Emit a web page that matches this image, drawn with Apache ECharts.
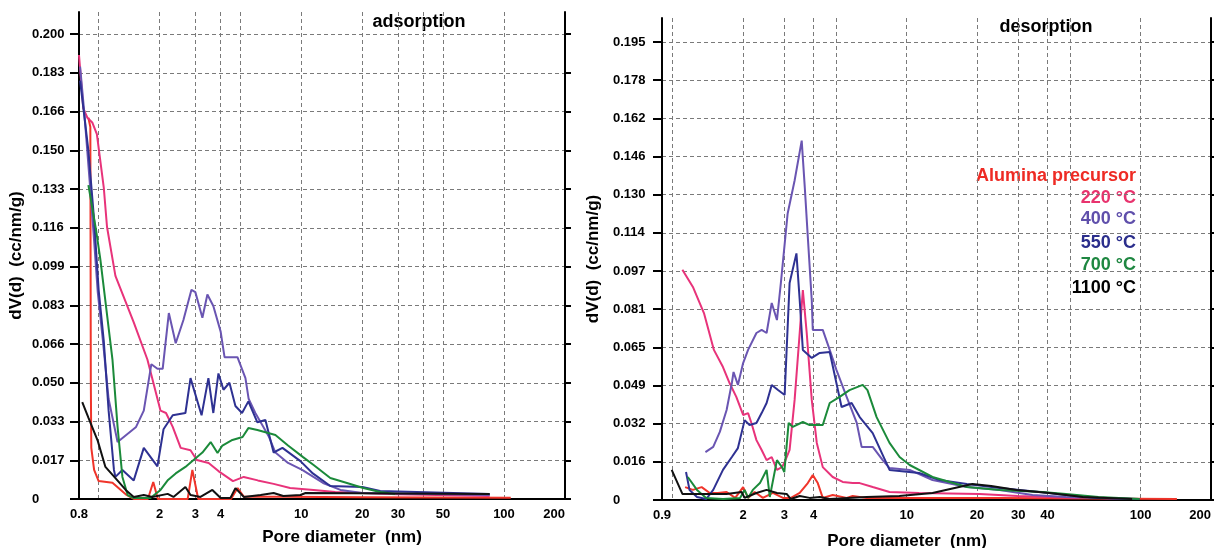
<!DOCTYPE html>
<html>
<head>
<meta charset="utf-8">
<title>Pore size distribution</title>
<script src="https://cdn.jsdelivr.net/npm/echarts@6/dist/echarts.min.js"></script>
<style>
  html, body { margin: 0; padding: 0; background: #fff; }
  #chart { width: 1214px; height: 548px; }
</style>
</head>
<body>
<div id="chart"></div>
<script>
const seriesNames = ['Alumina precursor', '220 °C', '400 °C', '550 °C', '700 °C', '1100 °C']

// tick labels
const adsXLabels = [0.8, 2, 3, 4, 10, 20, 30, 50, 100, 200]
const desXLabels = [0.9, 2, 3, 4, 10, 20, 30, 40, 100, 200]
const xGridValues = [1, 2, 3, 4, 5, 10, 20, 30, 40, 50, 100]
const adsYLabels = ['0', '0.017', '0.033', '0.050', '0.066', '0.083', '0.099', '0.116', '0.133', '0.150', '0.166', '0.183', '0.200']
const desYLabels = ['0', '0.016', '0.032', '0.049', '0.065', '0.081', '0.097', '0.114', '0.130', '0.146', '0.162', '0.178', '0.195']

// adsorption: [pore diameter (nm), dV(d) (cc/nm/g)]
const adsPrecursor = [[0.89, 0.164], [0.91, 0.16], [0.915, 0.05], [0.92, 0.022], [0.95, 0.0125], [1.0, 0.0077], [1.17, 0.007], [1.36, 0.002], [1.49, 0], [1.75, 0], [1.86, 0.0073], [1.96, 0], [2.75, 0], [2.9, 0.0125], [3.1, 0], [4.5, 0], [4.85, 0.0047], [5.2, 0.001], [8, 0.001], [20, 0.0008], [108, 0.0005]]
const ads220 = [[0.8, 0.191], [0.84, 0.168], [0.88, 0.164], [0.93, 0.162], [0.98, 0.157], [1.06, 0.134], [1.1, 0.117], [1.21, 0.096], [1.49, 0.076], [1.74, 0.06], [2.02, 0.038], [2.15, 0.037], [2.32, 0.031], [2.54, 0.022], [2.84, 0.021], [3.05, 0.0168], [3.49, 0.0155], [3.9, 0.012], [4.6, 0.0077], [5.2, 0.0095], [6.1, 0.008], [7.3, 0.0065], [8.8, 0.0047], [11.5, 0.0039], [14.7, 0.003], [30, 0.002], [85, 0.0013]]
const ads400 = [[0.81, 0.186], [0.85, 0.166], [0.91, 0.133], [0.95, 0.111], [0.99, 0.089], [1.05, 0.068], [1.12, 0.043], [1.24, 0.0245], [1.53, 0.031], [1.67, 0.038], [1.82, 0.058], [1.95, 0.056], [2.07, 0.056], [2.22, 0.08], [2.4, 0.067], [2.62, 0.077], [2.87, 0.09], [3.0, 0.089], [3.25, 0.078], [3.44, 0.088], [3.68, 0.083], [4.0, 0.072], [4.18, 0.061], [4.84, 0.061], [5.3, 0.052], [5.5, 0.043], [5.93, 0.037], [6.5, 0.031], [6.9, 0.027], [7.45, 0.02], [8.6, 0.0155], [10.1, 0.0125], [12.8, 0.0069], [15.6, 0.0039], [20, 0.0026], [85, 0.0017]]
const ads550 = [[0.81, 0.18], [0.89, 0.15], [0.95, 0.12], [1.0, 0.09], [1.06, 0.068], [1.12, 0.038], [1.19, 0.0125], [1.21, 0.0095], [1.31, 0.0125], [1.49, 0.008], [1.67, 0.022], [1.95, 0.014], [2.09, 0.03], [2.32, 0.036], [2.68, 0.037], [2.84, 0.052], [3.22, 0.036], [3.48, 0.052], [3.68, 0.037], [3.9, 0.054], [4.13, 0.047], [4.42, 0.05], [4.73, 0.04], [5.1, 0.037], [5.48, 0.042], [6.07, 0.033], [6.65, 0.034], [7.3, 0.02], [8.07, 0.022], [9.9, 0.0163], [11.4, 0.011], [13.9, 0.0056], [20, 0.0052], [24.5, 0.0034], [85, 0.0022]]
const ads700 = [[0.89, 0.135], [0.97, 0.116], [1.02, 0.103], [1.17, 0.06], [1.24, 0.031], [1.31, 0.0095], [1.39, 0.0017], [1.49, 0.0004], [1.8, 0.0004], [2.02, 0.0039], [2.2, 0.0082], [2.4, 0.011], [2.68, 0.0138], [2.94, 0.0168], [3.25, 0.02], [3.57, 0.0245], [3.86, 0.0198], [4.08, 0.023], [4.57, 0.0254], [5.13, 0.0267], [5.48, 0.0305], [6.07, 0.0297], [7.45, 0.0275], [8.6, 0.023], [10.2, 0.018], [11.5, 0.0146], [13.9, 0.009], [16.8, 0.0069], [20.2, 0.0047], [24.5, 0.003], [29, 0.0022]]
const ads1100 = [[0.83, 0.0417], [0.89, 0.035], [0.99, 0.025], [1.08, 0.0138], [1.21, 0.009], [1.36, 0.0039], [1.49, 0.0009], [1.67, 0.0017], [1.84, 0.0009], [2.19, 0.0022], [2.34, 0.0009], [2.68, 0.0052], [2.84, 0.0017], [3.18, 0.0009], [3.64, 0.0039], [4.0, 0.0004], [4.47, 0.0004], [4.73, 0.0047], [5.2, 0.0009], [6.3, 0.0017], [7.3, 0.0026], [8.15, 0.0013], [9.9, 0.0017], [10.5, 0.0026], [85, 0.0022]]

// desorption: [pore diameter (nm), dV(d) (cc/nm/g)]
const desPrecursor = [[1.13, 0.0055], [1.22, 0.0043], [1.33, 0.0055], [1.44, 0.003], [1.56, 0.003], [1.7, 0.0034], [1.85, 0.0009], [2.0, 0.0055], [2.1, 0.0009], [2.24, 0.0034], [2.43, 0.0009], [2.68, 0.003], [2.96, 0.0009], [3.2, 0.0009], [3.49, 0.003], [3.78, 0.0072], [3.97, 0.0106], [4.17, 0.0072], [4.38, 0.0009], [4.83, 0.0021], [5.54, 0.0009], [5.88, 0.0017], [6.74, 0.0009], [10.3, 0.0009], [25, 0.0009], [143, 0.0004]]
const des220 = [[1.1, 0.098], [1.22, 0.0907], [1.36, 0.0796], [1.5, 0.0639], [1.64, 0.0566], [1.75, 0.0498], [1.87, 0.0439], [2.0, 0.0362], [2.1, 0.037], [2.17, 0.0328], [2.28, 0.0255], [2.4, 0.0213], [2.52, 0.017], [2.65, 0.0183], [2.79, 0.0128], [2.93, 0.014], [3.0, 0.0158], [3.16, 0.0213], [3.32, 0.0426], [3.49, 0.0711], [3.6, 0.0894], [3.74, 0.0711], [3.93, 0.0426], [4.13, 0.0243], [4.38, 0.014], [4.83, 0.0098], [5.33, 0.0077], [5.88, 0.0072], [6.3, 0.0072], [7.16, 0.0055], [8.45, 0.0034], [11.3, 0.003], [20.5, 0.0026], [29.8, 0.0017], [54.8, 0.0009]]
const des400 = [[1.38, 0.0204], [1.49, 0.0226], [1.59, 0.029], [1.7, 0.0383], [1.79, 0.0498], [1.82, 0.0545], [1.9, 0.049], [2.0, 0.0583], [2.1, 0.0639], [2.28, 0.0711], [2.4, 0.0724], [2.52, 0.0711], [2.65, 0.0839], [2.79, 0.0766], [2.9, 0.0924], [3.1, 0.122], [3.32, 0.136], [3.56, 0.153], [3.67, 0.133], [3.78, 0.112], [3.93, 0.085], [3.97, 0.0724], [4.38, 0.0724], [4.69, 0.0639], [5.01, 0.0554], [5.54, 0.0439], [6.12, 0.0328], [6.42, 0.0226], [7.16, 0.0226], [7.9, 0.017], [8.45, 0.0136], [10.3, 0.0128], [12.9, 0.0085], [18.1, 0.0055], [25, 0.0043], [34.5, 0.0021], [48, 0.0013], [92, 0.0004]]
const des550 = [[1.14, 0.0119], [1.18, 0.0043], [1.27, 0.0013], [1.39, 0.0004], [1.49, 0.0043], [1.64, 0.0128], [1.79, 0.0183], [1.9, 0.0221], [2.03, 0.034], [2.13, 0.0319], [2.28, 0.0328], [2.4, 0.037], [2.52, 0.0413], [2.65, 0.049], [2.82, 0.0468], [3.01, 0.0447], [3.16, 0.0924], [3.38, 0.105], [3.49, 0.0852], [3.6, 0.0639], [3.93, 0.0605], [4.25, 0.0626], [4.69, 0.063], [5.27, 0.0396], [5.82, 0.0413], [6.3, 0.0353], [7.16, 0.0285], [8.45, 0.0128], [11.3, 0.0115], [13.8, 0.0085], [18.1, 0.0068], [25, 0.0051], [37, 0.0034], [48, 0.0021], [66, 0.0009], [99, 0.0004]]
const des700 = [[1.16, 0.0098], [1.27, 0.0043], [1.39, 0.0009], [1.64, 0.0004], [1.94, 0.0009], [2.03, 0.0043], [2.1, 0.0009], [2.2, 0.0043], [2.36, 0.0072], [2.52, 0.0128], [2.6, 0.0013], [2.79, 0.017], [2.93, 0.014], [3.0, 0.0119], [3.13, 0.0328], [3.26, 0.0311], [3.6, 0.0332], [3.85, 0.0319], [4.38, 0.0319], [4.69, 0.0413], [5.17, 0.0439], [5.7, 0.0468], [6.49, 0.049], [6.8, 0.0468], [7.44, 0.0353], [8.45, 0.0243], [9.33, 0.0183], [10.3, 0.0149], [12.9, 0.0098], [18.1, 0.0055], [25, 0.0043], [38, 0.0034], [48, 0.0026], [66, 0.0013], [99, 0.0004]]
const des1100 = [[0.99, 0.0128], [1.1, 0.0026], [1.7, 0.0026], [1.97, 0.0034], [2.03, 0.0009], [2.28, 0.003], [2.52, 0.0043], [2.79, 0.003], [3.07, 0.0026], [3.2, 0.0004], [3.49, 0.0017], [3.85, 0.0009], [4.25, 0.0013], [4.69, 0.0004], [6.74, 0.0013], [9.3, 0.0017], [12.9, 0.003], [19.1, 0.0068], [23, 0.006], [29.5, 0.0043], [40.8, 0.003], [56.6, 0.0013], [92, 0.0004]]

const adsData = [adsPrecursor, ads220, ads400, ads550, ads700, ads1100]
const desData = [desPrecursor, des220, des400, des550, des700, des1100]

const lineColors = ['#f0342a', '#e8337a', '#6a55b2', '#2e3192', '#1b8a3a', '#111111']
const textColors = ['#ee2b24', '#e8336e', '#5f4fab', '#2b2e8c', '#1e8741', '#000000']
const font = 'Liberation Sans, Arial, sans-serif'
const dashed = { color: '#7a7a7a', width: 1, type: [4, 3] }

const log = d => Math.log10(d)

function xAxis(gridIndex, minNm, labels) {
  return {
    type: 'value', gridIndex: gridIndex, min: log(minNm), max: log(200),
    axisLine: { show: true, onZero: false, lineStyle: { color: '#000', width: 2 } },
    axisTick: { show: false, customValues: xGridValues.map(log) },
    axisLabel: {
      customValues: labels.map(log),
      formatter: v => String(Math.round(Math.pow(10, v) * 10) / 10),
      color: '#000', fontWeight: 'bold', fontSize: 13, fontFamily: font,
      margin: 9, alignMaxLabel: 'right'
    },
    splitLine: { show: true, lineStyle: dashed }
  }
}

function yAxes(gridIndex, labels, step, max, labelMargin, nameGap) {
  const ticks = labels.map((_, i) => i * step)
  const fmt = v => labels[Math.round(v / step)]
  return [{
    type: 'value', gridIndex: gridIndex, min: 0, max: max, position: 'left',
    axisLine: { show: true, onZero: false, lineStyle: { color: '#000', width: 2 } },
    axisTick: { show: true, customValues: ticks, length: 9, lineStyle: { color: '#000', width: 2 } },
    axisLabel: {
      customValues: ticks, formatter: fmt, align: 'left', margin: labelMargin,
      color: '#000', fontWeight: 'bold', fontSize: 13, fontFamily: font
    },
    splitLine: { show: true, lineStyle: dashed },
    name: 'dV(d)  (cc/nm/g)', nameLocation: 'middle', nameGap: nameGap,
    nameTextStyle: { color: '#000', fontWeight: 'bold', fontSize: 17, fontFamily: font }
  }, {
    type: 'value', gridIndex: gridIndex, min: 0, max: max, position: 'right',
    axisLine: { show: true, onZero: false, lineStyle: { color: '#000', width: 2 } },
    axisTick: { show: true, customValues: ticks, length: 6, lineStyle: { color: '#000', width: 2 } },
    axisLabel: { show: false },
    splitLine: { show: false }
  }]
}

function makeSeries(data, xi, yi) {
  return data.map((pts, i) => ({
    name: seriesNames[i], type: 'line', xAxisIndex: xi, yAxisIndex: yi,
    data: pts.map(p => [log(p[0]), p[1]]),
    showSymbol: false, silent: true, animation: false,
    lineStyle: { color: lineColors[i], width: 2 }
  }))
}

const adsY = yAxes(0, adsYLabels, 0.2 / 12, 0.2095, 47, 54)
const desY = yAxes(1, desYLabels, 0.195 / 12, 0.2052, 49, 60)

const graphicText = (text, x, y, size, color, align) => ({
  type: 'text', x: x, y: y, silent: true,
  style: {
    text: text, fill: color, font: 'bold ' + size + 'px ' + font,
    align: align, textAlign: align, verticalAlign: 'middle', textVerticalAlign: 'middle'
  }
})

const legendY = [176, 198, 219, 243, 265, 288]

const options = {
  animation: false,
  backgroundColor: '#fff',
  grid: [
    { left: 79, right: 649, top: 12, bottom: 49 },
    { left: 662, right: 2, top: 18, bottom: 48 }
  ],
  xAxis: [xAxis(0, 0.8, adsXLabels), xAxis(1, 0.9, desXLabels)],
  yAxis: [adsY[0], adsY[1], desY[0], desY[1]],
  series: makeSeries(adsData, 0, 0).concat(makeSeries(desData, 1, 2)),
  graphic: [
    graphicText('adsorption', 419, 22, 18, '#000', 'center'),
    graphicText('desorption', 1046, 27, 18, '#000', 'center'),
    graphicText('Pore diameter  (nm)', 342, 537, 17, '#000', 'center'),
    graphicText('Pore diameter  (nm)', 907, 541, 17, '#000', 'center')
  ].concat(seriesNames.map((n, i) => graphicText(n, 1136, legendY[i], 18, textColors[i], 'right')))
}

const chart = echarts.init(document.getElementById('chart'))
chart.setOption(options)
</script>
</body>
</html>
